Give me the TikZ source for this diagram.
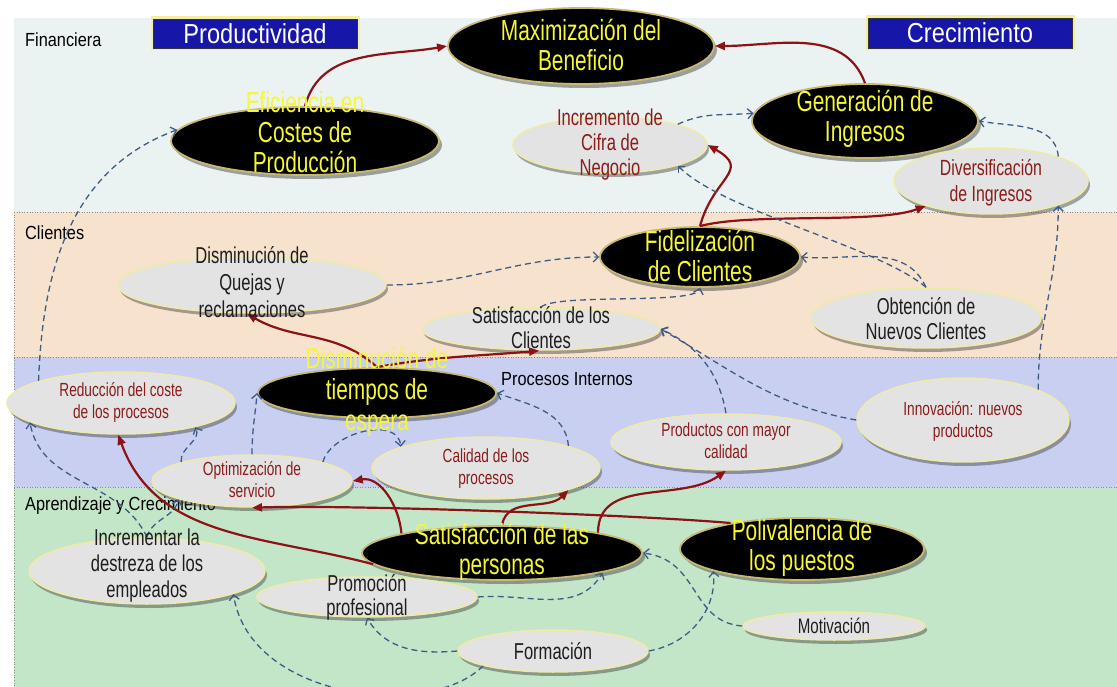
\documentclass[tikz,border=0pt]{standalone}
\usepackage{fontspec}
\setmainfont{Liberation Sans}
\newfontfamily\cond{Liberation Sans}[FakeStretch=0.72]
\newfontfamily\semi{Liberation Sans}[FakeStretch=0.86]
\usetikzlibrary{arrows.meta,shapes.geometric,shadows}
\definecolor{ytxt}{HTML}{F6F63A}
\definecolor{rtxt}{HTML}{8A1C1C}
\definecolor{dtxt}{HTML}{1E1E1E}
\definecolor{goldb}{HTML}{C8B870}
\definecolor{paley}{HTML}{EEEBA8}
\definecolor{lgrey}{HTML}{E3E3E3}
\definecolor{redc}{HTML}{8C1216}
\definecolor{bluec}{HTML}{3E5C86}
\definecolor{hblue}{HTML}{1616A8}
\definecolor{hyel}{HTML}{F2F0A0}
\definecolor{bfin}{HTML}{EAF3F1}
\definecolor{bcli}{HTML}{F7E2CE}
\definecolor{bpro}{HTML}{C9CFF0}
\definecolor{bapr}{HTML}{C3E5C8}
\begin{document}
\begin{tikzpicture}[x=1pt,y=1pt,
  blk/.style={ellipse, draw=goldb, line width=1.8pt, fill=black, inner sep=0pt,
    drop shadow={shadow xshift=3pt, shadow yshift=-4pt, fill=black!70, opacity=.5}},
  lgt/.style={ellipse, draw=paley, line width=1.5pt, fill=lgrey, inner sep=0pt,
    drop shadow={shadow xshift=2pt, shadow yshift=-4pt, fill=black!75, opacity=.45}},
  ytext/.style={align=center, text=ytxt, font=\cond\fontsize{29}{30}\selectfont, inner sep=0pt},
  rtext/.style={align=center, text=rtxt, font=\cond\fontsize{19}{22}\selectfont, inner sep=0pt},
  dtext/.style={align=center, text=dtxt, font=\cond\fontsize{23}{26}\selectfont, inner sep=0pt},
  blab/.style={anchor=west, text=black, font=\semi\fontsize{19}{22}\selectfont, inner sep=0pt},
  hdr/.style={rectangle, fill=hblue, draw=black!80, line width=0.8pt,
    preaction={draw=hyel, line width=5pt}, text=white,
    font=\semi\fontsize{27.5}{30}\selectfont, inner sep=0pt},
  redarr/.style={draw=redc, line width=2.2pt, -{Triangle[length=10pt,width=8pt]}},
  dasharr/.style={draw=bluec, line width=1.3pt, dash pattern=on 6pt off 4pt,
    -{Straight Barb[length=5pt,width=10pt,line width=1.3pt]}},
  sep/.style={draw=black!45, line width=0.6pt, dotted}
]
\useasboundingbox (0,0) rectangle (1117,-687);
\fill[white] (0,0) rectangle (1117,-687);
% bands
\fill[bfin] (14,-18) rectangle (1117,-212);
\fill[bcli] (14,-212) rectangle (1117,-357);
\fill[bpro] (14,-357) rectangle (1117,-487);
\fill[bapr] (14,-487) rectangle (1117,-687);
\draw[sep] (14,-212) -- (1117,-212);
\draw[sep] (14,-357) -- (1117,-357);
\draw[sep] (14,-487) -- (1117,-487);
\draw[sep] (14,-212) -- (14,-687);
% band labels
\node[blab] (lfin) at (25,-40) {Financiera};
\node[blab] (lcli) at (25,-233) {Clientes};
\node[blab] (lpro) at (501,-379) {Procesos Internos};
\node[blab] (lapr) at (25,-506) {Aprendizaje y Crecimiento};
% headers
\node[hdr, minimum width=204pt, minimum height=29pt] (prod) at (255,-33.5) {Productividad};
\node[hdr, minimum width=204pt, minimum height=30pt] (crec) at (970,-33) {Crecimiento};
% black ellipses
\node[blk, minimum width=266pt, minimum height=76pt] (max) at (581,-46) {};
\node[blk, minimum width=268pt, minimum height=68pt] (eff) at (305,-141) {};
\node[blk, minimum width=226pt, minimum height=74pt] (gen) at (865,-121) {};
\node[blk, minimum width=200pt, minimum height=60pt] (fid) at (700,-257) {};
\node[blk, minimum width=238pt, minimum height=50pt] (dis) at (377,-393) {};
\node[blk, minimum width=280pt, minimum height=54pt] (sat) at (502,-553) {};
\node[blk, minimum width=244pt, minimum height=62pt] (pol) at (802,-549) {};
% light ellipses
\node[lgt, minimum width=194pt, minimum height=56pt] (inc) at (610,-145) {};
\node[lgt, minimum width=194pt, minimum height=66pt] (div) at (991,-181) {};
\node[lgt, minimum width=268pt, minimum height=56pt] (que) at (252,-285) {};
\node[lgt, minimum width=238pt, minimum height=42pt] (satc) at (541,-329) {};
\node[lgt, minimum width=230pt, minimum height=60pt] (obt) at (926,-318) {};
\node[lgt, minimum width=228pt, minimum height=62pt] (red) at (121,-403) {};
\node[lgt, minimum width=200pt, minimum height=52pt] (opt) at (252,-481) {};
\node[lgt, minimum width=228pt, minimum height=62pt] (cal) at (486,-468) {};
\node[lgt, minimum width=230pt, minimum height=56pt] (pro) at (726,-442) {};
\node[lgt, minimum width=212pt, minimum height=84pt] (inn) at (963,-420) {};
\node[lgt, minimum width=236pt, minimum height=66pt] (incd) at (147,-571) {};
\node[lgt, minimum width=220pt, minimum height=40pt] (prom) at (367,-597) {};
\node[lgt, minimum width=190pt, minimum height=42pt] (form) at (553,-651) {};
\node[lgt, minimum width=182pt, minimum height=28pt] (mot) at (834,-626) {};
% red connectors
\draw[redarr] (eff.north) to[out=75,in=190] (max.west);
\draw[redarr] (gen.north) to[out=110,in=0] (max.east);
\draw[redarr] (fid.north) to[out=75,in=-30,looseness=1.6] (inc.east);
\draw[redarr] (fid.north) to[out=15,in=200,looseness=0.6] (div.201);
\draw[redarr] (dis.north) to[out=138,in=-30] (que.260);
\draw[redarr] (dis.north) to[out=10,in=185] (satc.265);
\draw[redarr] (sat.169) to[out=95,in=10] (opt.east);
\draw[redarr] (sat.185) to[out=165,in=-70] (red.265);
\draw[redarr] (pol.160) to[out=175,in=2,looseness=0.5] (opt.south);
\draw[redarr] (sat.north) to[out=80,in=-135] (cal.-15);
\draw[redarr] (sat.12) to[out=90,in=-145] (pro.south);
% dashed connectors
\draw[dasharr] (red.165) to[out=88,in=200] (eff.175);
\draw[dasharr] (inc.17) to[out=25,in=185] (gen.176);
\draw[dasharr] (div.20) to[out=95,in=-10] (gen.east);
\draw[dasharr] (inn.22) to[out=90,in=-90] (div.-20);
\draw[dasharr] (que.east) to[out=0,in=180] (fid.west);
\draw[dasharr] (obt.north) to[out=115,in=-5] (fid.east);
\draw[dasharr] (obt.north) to[out=140,in=-45,looseness=0.6] (inc.-17);
\draw[dasharr] (satc.north) .. controls (555,-293) and (695,-305) .. (fid.south);
\draw[dasharr] (pro.north) to[out=100,in=-25] (satc.east);
\draw[dasharr] (inn.west) to[out=170,in=-30] (satc.east);
\draw[dasharr] (cal.15) to[out=95,in=-20] (dis.east);
\draw[dasharr] (opt.15) to[out=75,in=95] (cal.166);
\draw[dasharr] (opt.north) to[out=90,in=-95] (dis.west);
\draw[dasharr] (opt.165) to[out=95,in=-65] (red.-18);
\draw[dasharr] (incd.north) to[out=115,in=-80] (red.192);
\draw[dasharr] (incd.north) to[out=75,in=-105] (opt.194);
\draw[dasharr] (form.192) .. controls (430,-720) and (250,-700) .. (incd.-15);
\draw[dasharr] (form.west) to[out=185,in=-60] (prom.south);
\draw[dasharr] (prom.east) to[out=5,in=-120] (sat.-11);
\draw[dasharr] (form.east) to[out=10,in=-85] (pol.194);
\draw[dasharr] (mot.west) .. controls (690,-622) and (700,-560) .. (sat.east);
% texts
\node[ytext] (max-t) at (581,-45) {Maximización del\\Beneficio};
\node[ytext] (eff-t) at (305,-132) {Eficiencia en\\Costes de\\Producción};
\node[ytext] (gen-t) at (865,-119) {Generación de\\Ingresos};
\node[ytext] (fid-t) at (700,-256) {Fidelización\\de Clientes};
\node[ytext, font=\cond\fontsize{29}{31}\selectfont] (dis-t) at (377,-392) {Disminución de\\tiempos de\\espera};
\node[ytext] (sat-t) at (502,-552) {Satisfacción de las\\personas};
\node[ytext] (pol-t) at (802,-548) {Polivalencia de\\los puestos};
\node[rtext, font=\cond\fontsize{23}{25}\selectfont] (inc-t) at (610,-145) {Incremento de\\Cifra de\\Negocio};
\node[rtext, font=\cond\fontsize{22}{26}\selectfont] (div-t) at (991,-183) {Diversificación\\de Ingresos};
\node[dtext, font=\cond\fontsize{23}{27}\selectfont] (que-t) at (252,-282) {Disminución de\\Quejas y\\reclamaciones};
\node[dtext, font=\cond\fontsize{23}{25}\selectfont] (satc-t) at (541,-328) {Satisfacción de los\\Clientes};
\node[dtext, font=\cond\fontsize{23}{25}\selectfont] (obt-t) at (926,-319) {Obtención de\\Nuevos Clientes};
\node[rtext] (red-t) at (121,-402) {Reducción del coste\\de los procesos};
\node[rtext] (opt-t) at (252,-480) {Optimización de\\servicio};
\node[rtext] (cal-t) at (486,-469) {Calidad de los\\procesos};
\node[rtext] (pro-t) at (726,-441) {Productos con mayor\\calidad};
\node[rtext] (inn-t) at (963,-421) {Innovación: nuevos\\productos};
\node[dtext] (incd-t) at (147,-566) {Incrementar la\\destreza de los\\empleados};
\node[dtext, font=\cond\fontsize{23}{24}\selectfont] (prom-t) at (367,-597) {Promoción\\profesional};
\node[dtext] (form-t) at (553,-651) {Formación};
\node[dtext, font=\cond\fontsize{21}{24}\selectfont] (mot-t) at (834,-626) {Motivación};
\end{tikzpicture}
\end{document}
